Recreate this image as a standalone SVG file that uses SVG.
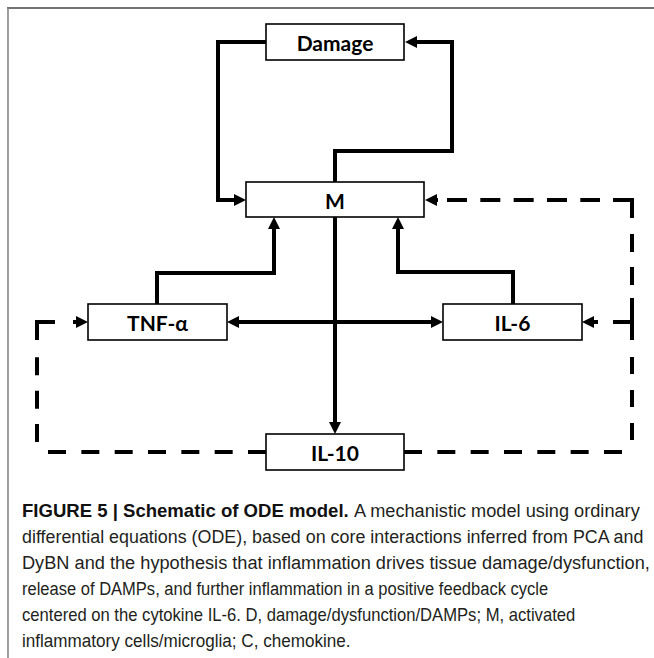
<svg xmlns="http://www.w3.org/2000/svg" width="654" height="658" viewBox="0 0 654 658">
  <style>
    .box { fill: #ffffff; stroke: #000000; stroke-width: 1.6; }
    .lbl { font-family: Lato, "Open Sans", "Liberation Sans", sans-serif; font-weight: bold; font-size: 21px; fill: #000000; text-anchor: middle; dominant-baseline: central; }
    .solid { fill: none; stroke: #000000; stroke-width: 4; }
    .dash { fill: none; stroke: #000000; stroke-width: 4; stroke-dasharray: 18 15.33; }
    .cap { font-family: "Liberation Sans", Arial, sans-serif; font-size: 19px; fill: #231f20; }
    .capb { font-weight: bold; fill: #111111; }
  </style>
  <defs>
    <marker id="arr" markerUnits="userSpaceOnUse" markerWidth="12" markerHeight="12" refX="0" refY="6" orient="auto-start-reverse">
      <path d="M0,0 L12,6 L0,12 z" fill="#000000"/>
    </marker>
  </defs>
  <rect width="654" height="658" fill="#ffffff"/>
  <g id="frame">
    <line x1="7" y1="8" x2="654" y2="8" stroke="#444444" stroke-width="1.6"/>
    <line x1="8" y1="8" x2="8" y2="658" stroke="#888888" stroke-width="1.6"/>
  </g>
  <g id="connectors">
    <path class="solid" d="M266,42 H218 V200 H234" marker-end="url(#arr)"/>
    <path class="solid" d="M335,182 V151 H452 V42 H417" marker-end="url(#arr)"/>
    <path class="solid" d="M157,304 V273 H274 V229" marker-end="url(#arr)"/>
    <path class="solid" d="M513,304 V272 H398 V229" marker-end="url(#arr)"/>
    <path class="solid" d="M239,322 H431" marker-start="url(#arr)" marker-end="url(#arr)"/>
    <path class="solid" d="M335,217 V422" marker-end="url(#arr)"/>
    <g id="dashed-il10-tnf">
      <path class="dash" d="M266,452 H48"/>
      <path class="dash" d="M37,442 V357"/>
      <path class="solid" d="M37,340 V322 H55"/>
      <path class="solid" d="M73,322 H76" marker-end="url(#arr)"/>
    </g>
    <g id="dashed-il10-m-il6">
      <path class="dash" d="M404,452 H623"/>
      <path class="solid" d="M632,440 V423 M632,407 V390 M632,374 V357 M632,340 V298 M632,285 V267 M632,252 V234"/>
      <path class="solid" d="M632,218 V200 H613"/>
      <path class="dash" style="stroke-dasharray: 20 13.33" d="M447,200 H600"/>
      <path class="solid" d="M438,200 H437" marker-end="url(#arr)"/>
      <path class="solid" d="M632,322 H613"/>
      <path class="solid" d="M598,322 H594" marker-end="url(#arr)"/>
    </g>
  </g>
  <g id="node-damage">
    <rect class="box" x="266" y="24" width="138" height="36"/>
    <text class="lbl" x="335" y="42">Damage</text>
  </g>
  <g id="node-m">
    <rect class="box" x="246" y="182" width="178" height="35"/>
    <text class="lbl" x="335" y="200">M</text>
  </g>
  <g id="node-tnf">
    <rect class="box" x="88" y="304" width="139" height="36"/>
    <text class="lbl" x="157.5" y="322">TNF-α</text>
  </g>
  <g id="node-il6">
    <rect class="box" x="443" y="304" width="139" height="36"/>
    <text class="lbl" x="512.5" y="322">IL-6</text>
  </g>
  <g id="node-il10">
    <rect class="box" x="266" y="434" width="138" height="36"/>
    <text class="lbl" x="335" y="452">IL-10</text>
  </g>
  <g id="caption">
    <text class="cap capb" transform="scale(0.977,1)" x="22.52" y="517">FIGURE 5 | Schematic of ODE model.</text>
    <text class="cap" transform="scale(0.957,1)" x="369.9" y="517">A mechanistic model using ordinary</text>
    <text class="cap" transform="scale(0.941,1)" x="23.38" y="543">differential equations (ODE), based on core interactions inferred from PCA and</text>
    <text class="cap" transform="scale(0.958,1)" x="22.96" y="569">DyBN and the hypothesis that inflammation drives tissue damage/dysfunction,</text>
    <text class="cap" transform="scale(0.87,1)" x="25.29" y="595">release of DAMPs, and further inflammation in a positive feedback cycle</text>
    <text class="cap" transform="scale(0.875,1)" x="25.14" y="621">centered on the cytokine IL-6. D, damage/dysfunction/DAMPs; M, activated</text>
    <text class="cap" transform="scale(0.9,1)" x="24.44" y="647">inflammatory cells/microglia; C, chemokine.</text>
  </g>
</svg>
